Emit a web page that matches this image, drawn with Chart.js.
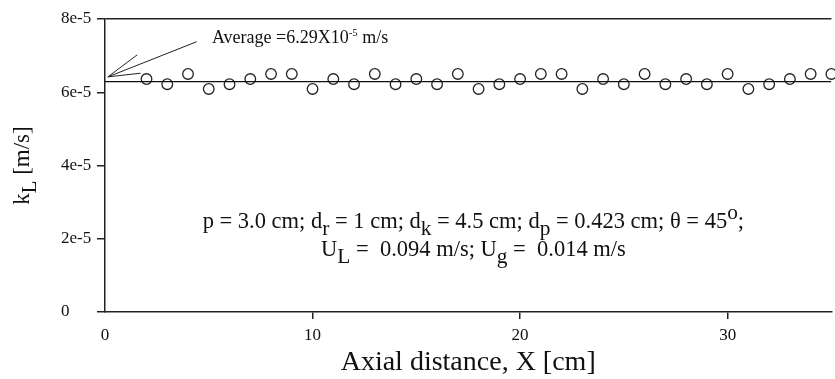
<!DOCTYPE html>
<html>
<head>
<meta charset="utf-8">
<script src="https://cdn.jsdelivr.net/npm/chart.js@4.4.1/dist/chart.umd.min.js"></script>
<style>
  html, body { margin: 0; padding: 0; background: #fff; overflow: hidden; }
  #wrap { width: 835px; height: 379px; overflow: hidden; }
</style>
</head>
<body>
<div id="wrap"><canvas id="chart" width="838" height="379"></canvas></div>
<script>
// Axial position [cm] and mass transfer coefficient kL [m/s]
const axialX = [2, 3, 4, 5, 6, 7, 8, 9, 10, 11, 12, 13, 14, 15, 16, 17, 18,
  19, 20, 21, 22, 23, 24, 25, 26, 27, 28, 29, 30, 31, 32, 33, 34, 35];
const kL = [6.36, 6.22, 6.50, 6.09, 6.22, 6.36, 6.50, 6.50, 6.09, 6.36, 6.22, 6.50,
  6.22, 6.36, 6.22, 6.50, 6.09, 6.22, 6.36, 6.50, 6.50, 6.09, 6.36, 6.22,
  6.50, 6.22, 6.36, 6.22, 6.50, 6.09, 6.22, 6.36, 6.50, 6.50].map(v => v * 1e-5);

const averageKL = 6.29e-5;
const averageSpan = [0, 35];

// leader lines of the "Average" callout: common origin, three ends
const calloutStart = [0.14, 6.42e-5];
const calloutEndX = [4.42, 1.55, 1.71];
const calloutEndY = [7.38e-5, 7.02e-5, 6.52e-5];

const xTicks = [0, 10, 20, 30];
const yTicks = [0, 2e-5, 4e-5, 6e-5, 8e-5];
const yTickLabels = ['0', '2e-5', '4e-5', '6e-5', '8e-5'];

const serif = '"Liberation Serif", "Times New Roman", serif';
const ink = '#222';

const datasets = [];
calloutEndX.forEach((ex, i) => {
  datasets.push({
    type: 'line',
    data: [{ x: calloutStart[0], y: calloutStart[1] }, { x: ex, y: calloutEndY[i] }],
    borderColor: ink, borderWidth: 1, pointRadius: 0, clip: false
  });
});
datasets.push({
  type: 'line',
  data: averageSpan.map(x => ({ x, y: averageKL })),
  borderColor: '#111', borderWidth: 1.4, pointRadius: 0
});
datasets.push({
  type: 'scatter',
  data: axialX.map((x, i) => ({ x, y: kL[i] })),
  pointStyle: 'circle', pointRadius: 5.3, borderWidth: 1.3,
  borderColor: ink, backgroundColor: 'rgba(255,255,255,0)', clip: false
});

// draws a line of text where parts can be subscript or superscript
function drawRich(ctx, parts, x, y, size, align) {
  const fontFor = p => (p[2] || (p[1] ? 0.95 : 1)) * size + 'px ' + serif;
  let total = 0;
  parts.forEach(p => { ctx.font = fontFor(p); total += ctx.measureText(p[0]).width; });
  let cx = align === 'center' ? x - total / 2 : x;
  ctx.textAlign = 'left';
  ctx.textBaseline = 'alphabetic';
  parts.forEach(p => {
    ctx.font = fontFor(p);
    const dy = p[1] === 'sub' ? size * 0.3 : p[1] === 'sup' ? -size * 0.4 : 0;
    ctx.fillText(p[0], cx, y + dy);
    cx += ctx.measureText(p[0]).width;
  });
}

const notes = {
  id: 'notes',
  afterDraw(chart) {
    const { ctx } = chart;
    const xs = chart.scales.x, ys = chart.scales.y;
    ctx.save();
    ctx.fillStyle = '#111';

    drawRich(ctx, [['Average =6.29X10'], ['-5', 'sup', 0.6], [' m/s']],
      xs.getPixelForValue(5.15), ys.getPixelForValue(7.35e-5), 18, 'left');

    const cx = xs.getPixelForValue(17.75);
    drawRich(ctx, [['p = 3.0 cm; d'], ['r', 'sub'], [' = 1 cm; d'], ['k', 'sub'],
      [' = 4.5 cm; d'], ['p', 'sub'], [' = 0.423 cm; \u03b8 = 45'], ['o', 'sup'], [';']],
      cx, ys.getPixelForValue(2.29e-5), 22.5, 'center');
    drawRich(ctx, [['U'], ['L', 'sub'], [' =  0.094 m/s; U'], ['g', 'sub'], [' =  0.014 m/s']],
      cx, ys.getPixelForValue(1.53e-5), 22.5, 'center');

    // y axis title with subscript
    ctx.translate(22, (chart.chartArea.top + chart.chartArea.bottom) / 2);
    ctx.rotate(-Math.PI / 2);
    drawRich(ctx, [['k'], ['L', 'sub', 0.9], [' [m/s]']], 0, 7, 23, 'center');
    ctx.restore();
  }
};

new Chart(document.getElementById('chart'), {
  type: 'scatter',
  data: { datasets },
  plugins: [notes],
  options: {
    responsive: false,
    animation: false,
    layout: { padding: { left: 61, top: 19, right: 1, bottom: 0 } },
    plugins: { legend: { display: false }, tooltip: { enabled: false } },
    scales: {
      x: {
        type: 'linear', min: 0, max: 35,
        afterBuildTicks: s => { s.ticks = xTicks.map(value => ({ value })); },
        afterFit: s => { s.height = 67; },
        border: { color: ink, width: 1.5 },
        grid: {
          drawOnChartArea: false, tickLength: 7, lineWidth: 1.5,
          tickColor: c => (c.index === 0 ? 'rgba(0,0,0,0)' : ink)
        },
        ticks: { includeBounds: false, color: '#111', padding: 6, maxRotation: 0,
          font: { family: serif, size: 17 } },
        title: { display: true, text: 'Axial distance, X [cm]', color: '#111',
          font: { family: serif, size: 28 }, padding: { top: 0, bottom: 0 } }
      },
      y: {
        type: 'linear', min: 0, max: 8e-5,
        afterBuildTicks: s => { s.ticks = yTicks.map(value => ({ value })); },
        afterFit: s => { s.width = 44; },
        border: { color: ink, width: 1.5 },
        grid: {
          tickLength: 8, lineWidth: 1.5, tickColor: ink,
          color: c => (c.index === yTicks.length - 1 ? ink : 'rgba(0,0,0,0)')
        },
        ticks: { includeBounds: false, crossAlign: 'far', color: '#111',
          callback: (v, i) => yTickLabels[i], font: { family: serif, size: 17 } }
      }
    }
  }
});
</script>
</body>
</html>
